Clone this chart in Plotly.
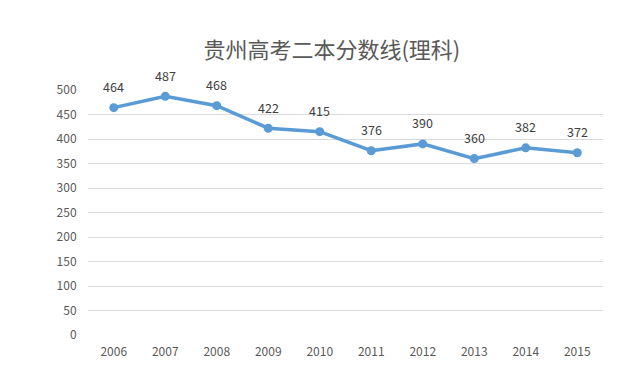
import plotly.graph_objects as go

years = ["2006", "2007", "2008", "2009", "2010", "2011", "2012", "2013", "2014", "2015"]
scores = [464, 487, 468, 422, 415, 376, 390, 360, 382, 372]
y_ticks = [0, 50, 100, 150, 200, 250, 300, 350, 400, 450, 500]

fig = go.Figure()
fig.add_trace(go.Scatter(
    x=years, y=scores, mode="lines+markers",
    line=dict(color="#5b9bd5", width=3.5),
    marker=dict(color="#5b9bd5", size=9),
    cliponaxis=False, showlegend=False,
))
for i, v in enumerate(scores):
    fig.add_annotation(x=i, y=v, xref="x", yref="y", text=str(v), showarrow=False, yshift=21,
                       font=dict(size=12.5, color="#404040"))

fig.update_layout(
    width=611, height=368,
    margin=dict(l=80, r=16, t=82, b=41),
    paper_bgcolor="white", plot_bgcolor="white",
    font=dict(family="Noto Sans CJK SC, Liberation Sans, sans-serif", color="#595959", size=12),
    title=dict(text="贵州高考二本分数线(理科)", x=0.530, xanchor="center", y=0.886, yanchor="middle",
               font=dict(size=22, color="#595959")),
    xaxis=dict(type="category", categoryorder="array", categoryarray=years,
               range=[-0.5, len(years) - 0.5],
               showgrid=False, showline=False, ticks="outside", ticklen=6, tickcolor="white",
               tickfont=dict(size=12, color="#595959")),
    yaxis=dict(range=[0, 500], tickvals=y_ticks, showgrid=True, gridcolor="#d9d9d9",
               gridwidth=1, zeroline=False, showline=False, ticks="outside", ticklen=8,
               tickcolor="white", tickfont=dict(size=12, color="#595959")),
)
fig.add_shape(type="line", xref="paper", yref="paper", x0=1.033, x1=1.033, y0=-0.2, y1=1.22,
              line=dict(color="#e0e0e0", width=1))
fig.write_html("out.html")
